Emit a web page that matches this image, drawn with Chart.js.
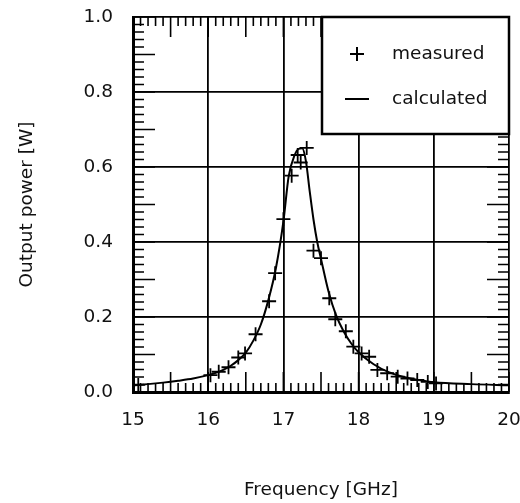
<!DOCTYPE html>
<html>
<head>
<meta charset="utf-8">
<script src="https://cdn.jsdelivr.net/npm/chart.js@4.4.1/dist/chart.umd.min.js"></script>
<style>
  html, body { margin: 0; padding: 0; background: #fff; }
  #wrap { width: 520px; height: 503px; position: relative; }
</style>
</head>
<body>
<div id="wrap"><canvas id="grafico"></canvas></div>
<script>
// datos medidos (cruces)
const medidoFrecuencia = [15.07, 16.03, 16.14, 16.27, 16.40, 16.49, 16.63, 16.81, 16.89, 17.00, 17.11, 17.19, 17.23, 17.31,
  17.40, 17.50, 17.61, 17.69, 17.83, 17.93, 18.04, 18.14, 18.25, 18.38, 18.52, 18.65, 18.78, 18.92, 19.03];
const medidoPotencia = [0.019, 0.045, 0.054, 0.066, 0.092, 0.103, 0.154, 0.242, 0.317, 0.461, 0.577, 0.632, 0.612, 0.651,
  0.377, 0.357, 0.25, 0.194, 0.162, 0.121, 0.103, 0.094, 0.059, 0.05, 0.041, 0.036, 0.032, 0.027, 0.023];

// curva calculada
const calcFrecuencia = [15.0, 15.2, 15.4, 15.6, 15.8, 16.0, 16.1, 16.2, 16.3, 16.4, 16.5, 16.6, 16.7, 16.8, 16.9, 17.0,
  17.07, 17.15, 17.2, 17.25, 17.3, 17.35, 17.4, 17.45, 17.5, 17.6, 17.7, 17.8, 17.9, 18.0, 18.2, 18.4, 18.6, 18.8, 19.0, 19.5, 20.0];
const calcPotencia = [0.018, 0.021, 0.025, 0.03, 0.036, 0.045, 0.051, 0.059, 0.07, 0.085, 0.105, 0.137, 0.18, 0.245, 0.33, 0.455,
  0.575, 0.632, 0.648, 0.65, 0.615, 0.535, 0.46, 0.4, 0.355, 0.268, 0.205, 0.162, 0.13, 0.106, 0.074, 0.053, 0.04, 0.032, 0.026, 0.021, 0.018];

const etiquetasLeyenda = ['measured', 'calculated'];
const tituloX = 'Frequency [GHz]';
const tituloY = 'Output power [W]';

const fuente = 'DejaVu Sans';
const tamFuente = 18.5;
const colorTexto = '#111';

function aPuntos(xs, ys) {
  return xs.map((x, i) => ({ x: x, y: ys[i] }));
}

// marcas menores hacia dentro en los cuatro lados
const marcasMenores = {
  id: 'marcasMenores',
  beforeDatasetsDraw(chart) {
    const { ctx, chartArea: a, scales: { x, y } } = chart;
    ctx.save();
    ctx.strokeStyle = '#000';
    ctx.lineWidth = 1.6;
    ctx.beginPath();
    for (let i = 0; i <= 50; i++) {
      const px = x.getPixelForValue(15 + i * 0.1);
      const largo = (i % 5 === 0) ? 20 : 9;
      ctx.moveTo(px, a.bottom); ctx.lineTo(px, a.bottom - largo);
      ctx.moveTo(px, a.top); ctx.lineTo(px, a.top + largo);
    }
    for (let j = 0; j <= 50; j++) {
      const py = y.getPixelForValue(j * 0.02);
      const largo = (j % 5 === 0) ? 22 : 11;
      ctx.moveTo(a.left, py); ctx.lineTo(a.left + largo, py);
      ctx.moveTo(a.right, py); ctx.lineTo(a.right - largo, py);
    }
    ctx.stroke();
    ctx.restore();
  }
};

// leyenda dentro del área, arriba a la derecha
const leyendaCaja = {
  id: 'leyendaCaja',
  afterDatasetsDraw(chart) {
    const { ctx, chartArea: a } = chart;
    const izq = a.left + 189, abajo = a.top + 117;
    ctx.save();
    ctx.fillStyle = '#fff';
    ctx.fillRect(izq, a.top, a.right - izq, abajo - a.top);
    ctx.strokeStyle = '#000';
    ctx.lineWidth = 2.5;
    ctx.strokeRect(izq, a.top, a.right - izq, abajo - a.top);
    ctx.lineWidth = 2;
    ctx.beginPath();
    const cx = izq + 35, fila1 = a.top + 37, fila2 = a.top + 82;
    ctx.moveTo(cx - 7, fila1); ctx.lineTo(cx + 7, fila1);
    ctx.moveTo(cx, fila1 - 7); ctx.lineTo(cx, fila1 + 7);
    ctx.moveTo(cx - 12, fila2); ctx.lineTo(cx + 12, fila2);
    ctx.stroke();
    ctx.fillStyle = colorTexto;
    ctx.font = tamFuente + 'px "' + fuente + '"';
    ctx.textBaseline = 'middle';
    ctx.fillText(etiquetasLeyenda[0], izq + 70, fila1);
    ctx.fillText(etiquetasLeyenda[1], izq + 70, fila2);
    ctx.restore();
  }
};

const ctx = document.getElementById('grafico').getContext('2d');
new Chart(ctx, {
  type: 'scatter',
  data: {
    datasets: [{
      label: etiquetasLeyenda[0],
      data: aPuntos(medidoFrecuencia, medidoPotencia),
      pointStyle: 'cross',
      pointRadius: 7,
      pointBorderWidth: 1.8,
      borderColor: '#000',
      backgroundColor: '#000',
      showLine: false
    }, {
      label: etiquetasLeyenda[1],
      data: aPuntos(calcFrecuencia, calcPotencia),
      showLine: true,
      pointRadius: 0,
      borderColor: '#000',
      borderWidth: 2,
      cubicInterpolationMode: 'monotone'
    }]
  },
  options: {
    responsive: true,
    maintainAspectRatio: false,
    animation: false,
    layout: { padding: { top: 17, right: 11, left: 0, bottom: 0 } },
    plugins: {
      legend: { display: false },
      tooltip: { enabled: false }
    },
    scales: {
      x: {
        type: 'linear',
        min: 15, max: 20,
        afterFit: s => { s.height = 111; s.paddingLeft = 0; s.paddingRight = 0; },
        border: { display: true, color: '#000', width: 3 },
        grid: { color: '#000', lineWidth: 1.8, drawTicks: false },
        ticks: {
          stepSize: 1, padding: 17, color: colorTexto,
          font: { family: fuente, size: tamFuente }
        },
        title: {
          display: true, text: tituloX, color: colorTexto,
          font: { family: fuente, size: tamFuente },
          padding: { top: 0, bottom: 2 }
        }
      },
      y: {
        min: 0, max: 1,
        afterFit: s => { s.width = 133; s.paddingTop = 0; s.paddingBottom = 0; },
        border: { display: true, color: '#000', width: 3 },
        grid: { color: '#000', lineWidth: 1.8, drawTicks: false },
        ticks: {
          stepSize: 0.2, padding: 20, color: colorTexto,
          font: { family: fuente, size: tamFuente },
          callback: v => v.toFixed(1)
        },
        title: {
          display: true, text: tituloY, color: colorTexto,
          font: { family: fuente, size: tamFuente },
          padding: { top: 16, bottom: 0 }
        }
      }
    }
  },
  plugins: [marcasMenores, leyendaCaja]
});
</script>
</body>
</html>
